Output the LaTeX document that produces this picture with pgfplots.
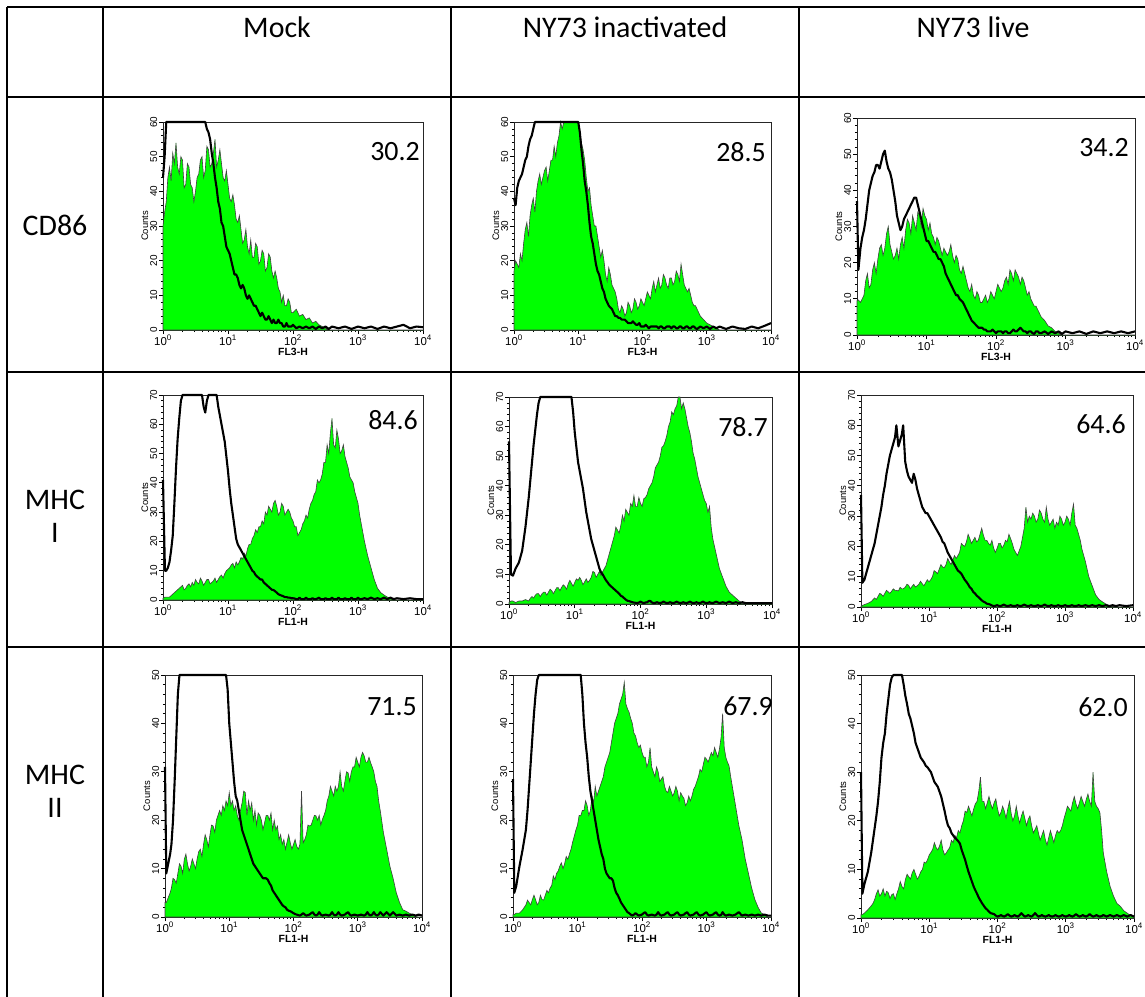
\documentclass[border=0pt]{standalone}
\usepackage{pgfplots}
\pgfplotsset{compat=1.18}
\usepackage{pgfplotstable}
\usepackage{fontspec}
\setmainfont{Carlito}
\setsansfont{Liberation Sans}
\definecolor{facsgreen}{RGB}{0,255,0}

\pgfplotstableread{
x g b
0.00 30 44
0.025 34 50
0.05 37 60
0.075 44 60
0.10 47 60
0.125 43 60
0.15 51 60
0.175 48 60
0.20 54 60
0.225 47 60
0.25 45 60
0.275 50 60
0.30 49 60
0.325 41 60
0.35 42 60
0.375 48 60
0.40 47 60
0.425 42 60
0.45 41 60
0.475 37 60
0.50 40 60
0.525 44 60
0.55 45 60
0.575 49 60
0.60 50 60
0.625 44 60
0.65 46 60
0.675 53 58
0.70 52 57
0.725 47 55
0.75 48 51
0.775 51 48
0.80 55 44
0.825 47 41
0.85 49 37
0.875 52 35
0.90 48 31
0.925 44 30
0.95 43 27
0.975 46 24
1.00 42 23
1.025 38 22
1.05 37 20
1.075 39 18
1.10 36 16
1.125 32 16
1.15 31 15
1.175 33 13
1.20 29 12
1.225 25 13
1.25 26 12
1.275 29 10
1.30 24 9
1.325 22 10
1.35 26 9
1.375 21 8
1.40 21 7
1.425 25 7
1.45 24 6
1.475 19 5
1.50 20 4
1.525 23 5
1.55 22 4
1.575 17 3
1.60 18 3
1.625 22 4
1.65 21 3
1.675 17 2
1.70 15 3
1.725 17 2
1.75 15 2
1.775 12 3
1.80 11 2
1.825 8 2
1.85 10 1
1.875 7 1
1.90 7 2
1.925 9 1
1.95 8 1
1.975 5 1
2.00 5 1.5
2.05 6 0.5
2.10 4 1
2.15 4.5 0.5
2.20 3 1
2.25 3.5 0.5
2.30 2 1
2.35 2.5 0.3
2.40 1.5 1
2.45 1 0.5
2.50 0.5 1
2.55 0 0.3
2.60 0 1
2.70 0 0.5
2.80 0 1
2.90 0 0.3
3.00 0 1
3.10 0 0.5
3.20 0 1
3.30 0 0.3
3.40 0 1
3.50 0 0.5
3.60 0 1
3.70 0 1.5
3.80 0 0.5
3.90 0 1
4.00 0 0.8
}\tabA

\pgfplotstableread{
x g b
0.00 17 38
0.025 20 36
0.05 19 41
0.075 18 43
0.10 22 44
0.125 20 45
0.15 25 47
0.175 29 49
0.20 31 50
0.225 27 53
0.25 33 55
0.275 36 56
0.30 38 58
0.325 34 60
0.35 40 60
0.375 43 60
0.40 45 60
0.425 42 60
0.45 44 60
0.475 46 60
0.50 47 60
0.525 43 60
0.55 46 60
0.575 49 60
0.60 49 60
0.625 53 60
0.65 50 60
0.675 54 60
0.70 56 60
0.725 60 60
0.75 58 60
0.775 60 60
0.80 60 60
0.85 60 60
0.90 60 60
0.95 60 60
1.00 60 60
1.025 57 57
1.05 54 52
1.075 52 48
1.10 49 43
1.125 44 40
1.15 40 36
1.175 41 31
1.20 36 27
1.225 33 25
1.25 30 22
1.275 30 19
1.30 27 17
1.325 24 16
1.35 21 14
1.375 23 12
1.40 20 11
1.425 16 9
1.45 14 8
1.475 18 7
1.50 16 6.5
1.525 13 6
1.55 12 5
1.575 11 4
1.60 9 4
1.625 6 3.5
1.65 5 3.5
1.675 7 3
1.70 6 3
1.725 4 3
1.75 5 2.5
1.775 8 2
1.80 7 2
1.825 5 2
1.85 6 2.5
1.875 9 2
1.90 8 1.5
1.925 6 1.5
1.95 7 2
1.975 9 1
2.00 8 1
2.025 7 1
2.05 9 1.5
2.075 11 1
2.10 10 0.5
2.125 9 1
2.15 12 1
2.175 14 1
2.20 11 1
2.225 13 1
2.25 15 0.5
2.275 12 1
2.30 13 1
2.325 16 0.5
2.35 15 0.5
2.375 13 1
2.40 12 1
2.425 15 1
2.45 15 0.5
2.475 13 1
2.50 14 1
2.525 17 0.5
2.55 16 0.5
2.575 14 1
2.60 19 1
2.625 16 0.5
2.65 13 0.5
2.675 12 1
2.70 11 1
2.725 12 0.5
2.75 10 0.5
2.775 8 1
2.80 7 1
2.825 7 0.5
2.85 6 0.3
2.90 4 1
2.95 3 0.5
3.00 2 1
3.05 1.5 0.3
3.10 1 1
3.15 0.5 0.5
3.20 0 1
3.30 0 0.3
3.40 0 1
3.50 0 0.5
3.60 0 0.3
3.70 0 1
3.80 0 0.5
3.90 0 1.2
4.00 0 2
}\tabB

\pgfplotstableread{
x g b
0.00 9.5 37
0.02 9.7 18
0.05 9 24
0.075 10 27
0.10 11 29
0.125 15 32
0.15 17 36
0.175 13 40
0.20 14 42
0.225 18 44
0.25 20 45
0.275 17 47
0.30 21 47
0.325 24 46
0.35 25 48
0.375 22 50
0.40 24 51
0.425 28 48
0.45 30 46
0.475 25 45
0.50 23 43
0.525 21 40
0.55 22 37
0.575 24 33
0.60 21 31
0.625 25 29
0.65 27 30
0.675 24 32
0.70 29 33
0.725 32 34
0.75 31 35
0.775 28 36
0.80 33 37
0.825 31 38
0.85 29 38
0.875 34 36
0.90 33 34
0.925 30 32
0.95 35 30
0.975 33 28
1.00 32 26
1.025 29 26
1.05 31 25
1.075 28 24
1.10 27 23
1.125 25 23
1.15 27 22
1.175 26 21
1.20 24 21
1.225 22 20
1.25 24 19
1.275 23 17
1.30 22 16
1.325 23 15
1.35 25 14
1.375 22 13
1.40 20 12
1.425 22 11
1.45 21 11
1.475 18 10
1.50 17 9.5
1.525 19 9
1.55 17 8
1.575 15 7
1.60 13 6
1.625 12 5
1.65 14 4
1.675 11 3.5
1.70 10 3
1.725 12 2.5
1.75 11 2
1.775 9 2
1.80 9 2
1.825 10 1.5
1.85 11 1.5
1.875 9 1
1.90 10 1
1.925 12 1
1.95 11 1.5
1.975 10 1
2.00 12 0.5
2.025 14 1
2.05 13 1
2.075 12 1
2.10 13 0.5
2.125 15 1
2.15 16 1
2.175 14 0.5
2.20 18 0.5
2.225 17 1
2.25 15 1.5
2.275 18 1
2.30 17 1
2.325 16 1.5
2.35 14 2
2.375 16 1.5
2.40 15 1
2.425 13 1
2.45 11 0.5
2.475 12 1
2.50 10 1
2.525 9 0.5
2.55 8 0.3
2.575 8 1
2.60 7 1
2.625 6 0.5
2.65 5 0.5
2.70 4 1
2.75 2.5 0.3
2.80 2 1
2.85 1 0.5
2.90 0.5 1
2.95 0 0.3
3.00 0 1
3.10 0 0.5
3.20 0 1
3.30 0 0.3
3.40 0 1
3.50 0 0.5
3.60 0 1
3.70 0 0.5
3.80 0 1
3.90 0 0.5
4.00 0 1
}\tabC

\pgfplotstableread{
x g b
0.00 0.6 41
0.03 1 10
0.05 1 10
0.075 1 11
0.10 1 13
0.125 1.5 17
0.15 2 22
0.175 2.5 33
0.20 3 45
0.225 3.5 55
0.25 4 62
0.275 4.5 68
0.30 5 70
0.325 3.5 70
0.35 4 70
0.375 5 70
0.40 5.5 70
0.425 4.5 70
0.45 6 70
0.475 5 70
0.50 7 70
0.525 6 70
0.55 5.5 70
0.575 7.5 70
0.60 6.5 70
0.625 5 66
0.65 6 64
0.675 7 68
0.70 7 70
0.725 5.5 70
0.75 6 70
0.775 6.5 70
0.80 7.5 70
0.825 6 70
0.85 7 66
0.875 8 63
0.90 8.5 60
0.925 7.5 57
0.95 9 54
0.975 10 49
1.00 10.5 44
1.025 11 38
1.05 12 33
1.075 12.5 29
1.10 11 25
1.125 13 21
1.15 12 19
1.175 13 18
1.20 14.5 17
1.225 14 16
1.25 16 15
1.275 15 14
1.30 17.5 13
1.325 19 12
1.35 19 11
1.375 21 10
1.40 22 9.5
1.425 24 8.5
1.45 23 8
1.475 25 7.5
1.50 25 7
1.525 27 7
1.55 26 6
1.575 30 5.5
1.60 29 5
1.625 32 4.5
1.65 31 4
1.675 30 3.5
1.70 33 3.4
1.725 34 3
1.75 32 2.5
1.775 29 2
1.80 30 1.7
1.825 33 1.5
1.85 32 1.3
1.875 29 1
1.90 30 1
1.925 31 0.8
1.95 30 0.8
1.975 28 0.6
2.00 27 0.6
2.025 25 0.5
2.05 25 0.3
2.075 22 0.3
2.10 23 0.8
2.125 24 0.3
2.15 26 0.3
2.175 27 0.3
2.20 29 0.8
2.225 28 0.3
2.25 31 0.3
2.275 33 0.3
2.30 34 0.6
2.325 36 0.3
2.35 37 0.3
2.375 41 0.5
2.40 40 0.8
2.425 41 0.3
2.45 43 0.3
2.475 47 0.3
2.50 47 0.6
2.525 53 0.3
2.55 50 0.3
2.575 57 0.3
2.60 62 0.8
2.625 53 0.3
2.65 52 0.3
2.675 58 0.3
2.70 55 0.8
2.725 50 0.3
2.75 51 0.3
2.775 53 0.3
2.80 49 0.6
2.825 47 0.3
2.85 45 0.3
2.875 42 0.3
2.90 41 0.8
2.925 40 0.3
2.95 37 0.3
2.975 35 0.3
3.00 33 0.8
3.025 29 0.3
3.05 26 0.3
3.10 20 0.6
3.15 15 0.3
3.20 11 0.8
3.25 7 0.3
3.30 4 0.6
3.35 2.5 0.3
3.40 1.7 0.8
3.45 1 0.3
3.50 0.6 0.8
3.55 0 0.3
3.60 0 0.6
3.70 0 0.3
3.80 0 0.6
3.90 0 0.3
4.00 0 0.3
}\tabD

\pgfplotstableread{
x g b
0.00 0.5 55
0.03 1 10
0.06 1 9.6
0.10 0.5 12
0.15 1 14
0.20 1 18
0.25 1.5 26
0.30 1 36
0.325 2 42
0.35 2.5 48
0.375 2 54
0.40 3 59
0.425 3.5 64
0.45 3.5 68
0.475 2.5 70
0.50 3.4 70
0.525 4 70
0.55 4 70
0.575 3 70
0.60 4 70
0.625 5 70
0.65 4.5 70
0.675 3.5 70
0.70 4.5 70
0.725 5.5 70
0.75 5.5 70
0.775 4.5 70
0.80 5.6 70
0.825 6.5 70
0.85 6 70
0.875 5 70
0.90 6.8 70
0.925 8 70
0.95 7 70
0.975 6 65
1.00 7.3 58
1.025 8.5 53
1.05 8 48
1.075 9 45
1.10 8 42
1.125 6.5 39
1.15 7.5 35
1.175 8.5 31
1.20 7.3 28
1.225 8 25
1.25 9 22
1.275 11 20
1.30 10.7 18
1.325 9 16
1.35 10 14
1.375 11 12
1.40 9.6 10.7
1.425 11 10
1.45 12 9
1.475 13 8
1.50 15 7.3
1.525 17 6.5
1.55 19 6
1.575 21 5.5
1.60 23 5
1.625 26 4.5
1.65 25 4
1.675 24 3.5
1.70 26.5 2.8
1.725 30 2.5
1.75 28 2
1.775 32 1.5
1.80 31 1.1
1.825 30 1
1.85 34 0.8
1.875 33 0.6
1.90 36.7 0.5
1.925 33 0.4
1.95 33 0.3
1.975 36 0.5
2.00 34 0.8
2.025 33 0.5
2.05 35.6 0.3
2.075 36 0.5
2.10 37 0.6
2.125 39 1
2.15 40 1
2.175 41 0.5
2.20 43 0.3
2.225 46 0.4
2.25 47 0.6
2.275 48 0.4
2.30 50 0.3
2.325 53 0.5
2.35 53.5 0.8
2.375 55 0.5
2.40 57 0.3
2.425 60 0.4
2.45 61.5 0.6
2.475 65 0.4
2.50 64 0.3
2.525 66 0.5
2.55 67 0.8
2.575 70 0.5
2.60 70 0.3
2.625 66 0.4
2.65 68 0.6
2.675 66 0.4
2.70 63 0.3
2.725 60 0.5
2.75 58 0.8
2.775 55 0.5
2.80 51 0.3
2.825 49 0.4
2.85 46 0.6
2.875 43 0.4
2.90 41 0.3
2.925 39 0.5
2.95 37 0.8
2.975 35 0.5
3.00 34 0.3
3.025 31 0.4
3.05 33 0.6
3.075 26 0.4
3.10 22 0.3
3.15 17 0.8
3.20 12 0.3
3.25 9 0.6
3.30 6 0.3
3.35 4 0.8
3.40 3 0.3
3.45 2 0.6
3.50 1 0.3
3.55 0.3 0.6
3.60 0 0.3
3.70 0 0.3
3.80 0 0.3
3.90 0 0.3
4.00 0 0.3
}\tabE

\pgfplotstableread{
x g b
0.00 0.3 37
0.02 0.5 8
0.05 0.8 9
0.10 1.2 13
0.15 1.8 17
0.20 3 21
0.225 2.5 24
0.25 3.5 27
0.275 4.5 30
0.30 4.2 33
0.325 3.5 37
0.35 4.5 40
0.375 5.5 44
0.40 5 47
0.425 4.5 50
0.45 5.2 52
0.475 6 54
0.50 5.5 56
0.52 5.5 60
0.55 5.3 53
0.575 6.5 55
0.60 6 57
0.62 6 60
0.65 6.5 48
0.675 7.5 45
0.70 7.2 43
0.725 6 42
0.75 6.8 41
0.775 7.5 44
0.80 6.6 42
0.825 7 39
0.85 7.5 37
0.875 8.5 35
0.90 7.7 33
0.925 7 32
0.95 8 31
0.975 9 31
1.00 8.3 30
1.025 9 29
1.05 10 28
1.075 12 27
1.10 11.6 26
1.125 11 25
1.15 12.5 24
1.175 14 23
1.20 13.2 21.5
1.225 13 21
1.25 14 19.5
1.275 16 18
1.30 14.9 17
1.325 14 16
1.35 15.5 15
1.375 17 14
1.40 16 13
1.425 17 12
1.45 18 11.6
1.475 21 11
1.50 20.4 10
1.525 20 9
1.55 21.5 8.3
1.575 24 7.5
1.60 22.6 6.5
1.625 21 6
1.65 22 5
1.675 23 4.5
1.70 21.5 3.8
1.725 22 3.3
1.75 24 2.8
1.775 26 2.2
1.80 23.7 1.8
1.825 22 1.5
1.85 22 1.1
1.875 21 1
1.90 20.4 0.8
1.925 22 0.5
1.95 19.5 0.3
1.975 18 0.4
2.00 19.3 0.6
2.025 21 0.4
2.05 21 0.3
2.075 19.5 0.5
2.10 20.4 0.8
2.125 22 0.5
2.15 21.5 0.3
2.175 24 0.4
2.20 22.6 0.6
2.225 21 0.4
2.25 19 0.3
2.275 18 0.4
2.30 17 0.6
2.325 18.5 0.4
2.35 20 0.3
2.375 23 0.5
2.40 26 0.8
2.425 33 0.5
2.45 28 0.3
2.475 30 0.4
2.50 29 0.6
2.525 31 0.4
2.55 30 0.3
2.575 28 0.4
2.60 29 0.6
2.625 32 0.4
2.65 31 0.3
2.675 29 0.5
2.70 28 0.8
2.725 33 0.5
2.75 29 0.3
2.775 27 0.4
2.80 28 0.6
2.825 29 0.4
2.85 26 0.3
2.875 28 0.4
2.90 27 0.6
2.925 30 0.4
2.95 29 0.3
2.975 27 0.4
3.00 28 0.6
3.025 30 0.4
3.05 29 0.3
3.075 27 0.4
3.10 31 0.6
3.125 34 0.4
3.15 27 0.3
3.175 26 0.4
3.20 24 0.6
3.225 22 0.4
3.25 19 0.3
3.30 15 0.6
3.35 10 0.3
3.40 7 0.6
3.45 4 0.3
3.50 2.5 0.6
3.55 1.7 0.3
3.60 1 0.6
3.65 0.5 0.3
3.70 0.3 0.6
3.75 0 0.3
3.80 0 0.6
3.90 0 0.3
4.00 0 0.6
}\tabF

\pgfplotstableread{
x g b
0.00 3 31
0.02 3 9
0.05 4 11
0.08 5 13
0.10 6 15
0.125 8 20
0.15 7.7 28
0.175 7 37
0.20 9 46
0.225 11 50
0.25 10.5 50
0.275 9 50
0.30 11.9 50
0.325 13 50
0.35 11 50
0.375 9.5 50
0.40 10.5 50
0.425 12 50
0.45 11 50
0.475 10 50
0.50 12 50
0.525 13.5 50
0.55 14 50
0.575 12.5 50
0.60 15 50
0.625 17 50
0.65 16 50
0.675 14.5 50
0.70 17 50
0.725 19 50
0.75 18.8 50
0.775 17.5 50
0.80 20 50
0.825 21 50
0.85 22 50
0.875 21 50
0.90 23 50
0.925 22 50
0.95 24 50
0.975 23 47
1.00 25.7 40
1.025 23 36
1.05 24 32
1.075 22 28
1.10 23 25
1.125 21 24
1.15 20 22
1.175 22 20
1.20 23.6 18
1.225 26 17
1.25 25.7 16
1.275 21 15
1.30 24 14
1.325 22 13
1.35 23.6 12
1.375 20 11
1.40 22 10.5
1.425 19 10
1.45 21.5 9.5
1.475 21 9
1.50 20 8.5
1.525 18 8
1.55 19.5 8
1.575 21 8
1.60 21 7.7
1.625 20 7
1.65 21.5 6.5
1.675 18 5.5
1.70 20 5
1.725 18 4.5
1.75 18.8 4
1.775 16 3.5
1.80 17 3
1.825 15 2.5
1.85 16 2.2
1.875 14 2
1.90 15.5 1.5
1.925 17 1.3
1.95 15.3 1.2
1.975 14 1
2.00 15 0.8
2.025 16 0.6
2.05 14.6 0.5
2.075 14 0.4
2.10 15 0.3
2.125 26 0.5
2.15 15.3 0.8
2.175 16 0.5
2.20 17 0.3
2.225 19 0.4
2.25 18.8 0.5
2.275 19 0.8
2.30 20 1
2.325 21 0.5
2.35 20.9 0.3
2.375 20 0.5
2.40 21 1
2.425 19 0.5
2.45 20.2 0.3
2.475 21 0.4
2.50 22 0.5
2.525 24 0.4
2.55 25 0.3
2.575 27 0.5
2.60 26 1
2.625 25 0.5
2.65 27 0.3
2.675 26 0.5
2.70 27 1
2.725 30 0.5
2.75 27 0.3
2.775 26 0.4
2.80 28 0.5
2.825 30 0.8
2.85 29.8 1
2.875 28 0.5
2.90 30 0.3
2.925 31 0.4
2.95 31 0.5
2.975 33 0.4
3.00 32 0.3
3.025 31 0.4
3.05 33 0.5
3.075 34 0.4
3.10 33.3 0.3
3.125 32 0.5
3.15 32 1
3.175 33 0.5
3.20 31.9 0.3
3.225 31 0.5
3.25 30 1
3.275 28 0.5
3.30 27 0.3
3.325 24 0.5
3.35 22 1
3.40 17.4 0.3
3.45 14 1
3.50 10.5 0.3
3.55 8 1
3.60 5 0.3
3.65 3 0.5
3.70 1.5 0.3
3.75 1.2 0.5
3.80 0.8 0.3
3.85 0.5 0.5
3.90 0.1 0.3
3.95 0 0.5
4.00 0 0.3
}\tabG

\pgfplotstableread{
x g b
0.00 0.5 28.5
0.02 0.5 5
0.05 0.8 6.4
0.10 0.8 10.5
0.15 1.5 14
0.20 2.5 18
0.225 3.5 22
0.25 3 27
0.275 2.5 32
0.30 3.6 37
0.325 4.5 42
0.35 3.6 46
0.375 2.5 49
0.40 3 50
0.425 4.5 50
0.45 3.6 50
0.475 3.5 50
0.50 4.5 50
0.525 5.5 50
0.55 5 50
0.575 6 50
0.60 6.5 50
0.625 8.5 50
0.65 7.7 50
0.675 9 50
0.70 9.5 50
0.725 10.5 50
0.75 11.2 50
0.775 10 50
0.80 11 50
0.825 12.5 50
0.85 11.9 50
0.875 13 50
0.90 14 50
0.925 15.5 50
0.95 16.7 50
0.975 18 50
1.00 19 50
1.025 21 50
1.05 20.9 50
1.075 22 46
1.10 22 40
1.125 24 36
1.15 23 33
1.175 21 29
1.20 22 26
1.225 25 24
1.25 23.6 22
1.275 27 20
1.30 25 18
1.325 26 16
1.35 27 14.5
1.375 28 13
1.40 29 12
1.425 31 10
1.45 32 9
1.475 33 8.5
1.50 34 8
1.525 36 8
1.55 38 7.5
1.575 40 6
1.60 41 5
1.625 42 4.5
1.65 44 3.8
1.675 45 3
1.70 46 2.5
1.725 48.5 2
1.75 44 1.5
1.775 43 1
1.80 42.3 0.8
1.825 41 0.5
1.85 40 0.3
1.875 38 0.5
1.90 37.4 0.8
1.925 36 0.5
1.95 35 0.3
1.975 35.5 0.4
2.00 34 0.5
2.025 33 0.8
2.05 33 1
2.075 31 0.5
2.10 32 0.3
2.125 35 0.4
2.15 31 0.5
2.175 30 0.4
2.20 29 0.3
2.225 31 0.5
2.25 30 1
2.275 28 0.5
2.30 28.5 0.3
2.325 29 0.4
2.35 27 0.5
2.375 26 0.8
2.40 25.7 1
2.425 27 0.5
2.45 26 0.3
2.475 25 0.4
2.50 25.7 0.5
2.525 27 0.8
2.55 26 1
2.575 24 0.5
2.60 25.7 0.3
2.625 25 0.4
2.65 24.5 0.5
2.675 23 0.8
2.70 23.6 1
2.725 25 0.5
2.75 24 0.3
2.775 25 0.4
2.80 26.4 0.5
2.825 27 0.8
2.85 28 1
2.875 29 0.5
2.90 30.5 0.3
2.925 30 0.4
2.95 31.5 0.5
2.975 33 0.8
3.00 32.6 1
3.025 32 0.5
3.05 33 0.3
3.075 34 0.4
3.10 33.3 0.5
3.125 35 0.8
3.15 34 1
3.175 33 0.5
3.20 34.7 0.3
3.225 37 0.4
3.25 42 1
3.275 35 0.5
3.30 33 0.3
3.325 32 0.4
3.35 31.2 0.5
3.375 29 0.4
3.40 27 0.3
3.45 23 0.5
3.50 19 1
3.55 16 0.3
3.60 12 0.5
3.65 9 0.3
3.70 6 0.5
3.75 3.6 0.3
3.80 2 0.5
3.85 0.8 0.3
3.90 0.5 0.5
3.95 0 0.3
4.00 0 0.3
}\tabH

\pgfplotstableread{
x g b
0.00 0.7 30
0.02 0.7 5
0.05 1 7
0.10 1.7 9.5
0.15 2.5 13.5
0.175 3 16
0.20 3.8 18.5
0.225 5 21
0.25 5.8 24
0.275 4.5 28
0.30 5 33
0.325 6 36
0.35 4.5 38
0.375 5.5 42
0.40 5.2 45
0.425 4 48
0.45 4.8 49.5
0.475 5 50
0.50 3.8 50
0.525 5 50
0.55 6 50
0.575 7.5 50
0.60 6.5 50
0.625 6 48
0.65 7.9 45.7
0.675 9 44
0.70 8.5 42
0.725 8 41
0.75 9.3 39.5
0.775 10 38
0.80 9 36
0.825 8 35
0.85 8.6 34
0.875 9.5 33
0.90 10 32.5
0.925 11.5 32
0.95 11.3 31.3
0.975 12 31
1.00 13 30.5
1.025 13.5 30
1.05 14.1 29
1.075 15.5 28
1.10 14.5 27.5
1.125 14 27
1.15 14.8 26
1.175 16 25
1.20 14 23.5
1.225 13 22
1.25 13.4 20.3
1.275 14 19
1.30 14.5 18.5
1.325 16 17.5
1.35 15.5 17
1.375 17 16.5
1.40 16.5 16.2
1.425 18 15.8
1.45 17.5 15.3
1.475 19 14
1.50 20 13
1.525 22 12
1.55 21.7 10.7
1.575 23 9.5
1.60 22 8.5
1.625 21 7.5
1.65 22.4 6.5
1.675 23.5 5.7
1.70 24 5
1.725 26 4.2
1.75 29 3.6
1.775 24 3
1.80 24 2.5
1.825 22.5 2
1.85 23.7 1.7
1.875 25 1.3
1.90 23.5 1
1.925 22.5 0.9
1.95 23.7 0.8
1.975 24.5 0.5
2.00 22.5 0.3
2.025 21 0.4
2.05 21.7 0.6
2.075 23 0.4
2.10 22 0.3
2.125 20.5 0.5
2.15 22.4 0.8
2.175 24 0.5
2.20 21.5 0.3
2.225 20 0.4
2.25 21 0.6
2.275 23 0.4
2.30 21 0.3
2.325 19.5 0.6
2.35 21 1
2.375 22 0.6
2.40 20.5 0.3
2.425 19 0.4
2.45 20.3 0.6
2.475 21 0.4
2.50 19 0.3
2.525 17.5 0.6
2.55 18.2 1
2.575 19 0.6
2.60 17.5 0.3
2.625 16 0.4
2.65 17 0.6
2.675 18 0.4
2.70 16.2 0.3
2.725 15 0.4
2.75 16.5 0.6
2.775 18 0.4
2.80 16.8 0.3
2.825 15.5 0.4
2.85 17 0.6
2.875 18 0.4
2.90 17.5 0.3
2.925 18 0.4
2.95 19 0.6
2.975 20.5 0.4
3.00 21.7 0.3
3.025 23 0.4
3.05 22.5 0.6
3.075 22 0.4
3.10 23.7 0.3
3.125 25 0.5
3.15 23.5 0.8
3.175 22.5 0.5
3.20 23.7 0.3
3.225 25 0.4
3.25 24 0.6
3.275 23 0.4
3.30 24.4 0.3
3.325 25.5 0.5
3.35 24 0.8
3.375 23 0.5
3.40 30 0.3
3.425 24 0.4
3.45 23 0.6
3.475 22.5 0.4
3.50 21.7 0.3
3.525 18 0.4
3.55 13.4 0.6
3.60 9.5 0.3
3.65 6.5 0.6
3.70 4.5 0.3
3.75 3 0.6
3.80 2.4 0.3
3.85 1.5 0.6
3.90 1 0.3
3.95 0.5 0.6
4.00 0.3 0.3
}\tabI

\pgfplotsset{
  facs/.style={
    anchor=north west,
    scale only axis,
    xmin=0, xmax=4, ymin=0,
    clip=false,
    axis line style={line width=0.9bp, black!85},
    tick pos=left, tick align=outside,
    xtick={0,1,2,3,4},
    xticklabels={10\textsuperscript{0},10\textsuperscript{1},10\textsuperscript{2},10\textsuperscript{3},10\textsuperscript{4}},
    minor xtick={0.301,0.477,0.602,0.699,0.778,0.845,0.903,0.954,1.301,1.477,1.602,1.699,1.778,1.845,1.903,1.954,2.301,2.477,2.602,2.699,2.778,2.845,2.903,2.954,3.301,3.477,3.602,3.699,3.778,3.845,3.903,3.954},
    ytick distance=10,
    minor y tick num=4,
    major tick length=4bp, minor tick length=2.2bp,
    every tick/.style={line width=0.8bp, black},
    xticklabel style={font=\sffamily\fontsize{11.5}{11.5}\selectfont, inner sep=1bp},
    yticklabel style={font=\sffamily\fontsize{10}{10}\selectfont, rotate=90, anchor=south, inner sep=1.5bp},
    /pgf/number format/assume math mode=true,
    ylabel={Counts},
    ylabel style={font=\sffamily\fontsize{9.5}{9.5}\selectfont, yshift=-3bp},
    xlabel style={font=\sffamily\bfseries\fontsize{10.5}{10.5}\selectfont, inner sep=1.5bp},
  },
  gfill/.style={fill=facsgreen, draw=black!75, line width=0.6bp, mark=none, sharp plot},
  iso/.style={draw=black, line width=2.1bp, mark=none, line join=round, sharp plot},
}

\begin{document}
\begin{tikzpicture}
\useasboundingbox (0bp,0bp) rectangle (1145bp,-997bp);
\fill[white] (0bp,0bp) rectangle (1145bp,-997bp);

% table grid
\begin{scope}[line width=2.4bp, black]
\draw (7bp,-7bp) -- (1145bp,-7bp);
\draw (7bp,-97bp) -- (1145bp,-97bp);
\draw (7bp,-372bp) -- (1145bp,-372bp);
\draw (7bp,-647bp) -- (1145bp,-647bp);
\draw (7bp,-7bp) -- (7bp,-997bp);
\draw (103bp,-7bp) -- (103bp,-997bp);
\draw (451bp,-7bp) -- (451bp,-997bp);
\draw (799bp,-7bp) -- (799bp,-997bp);
\end{scope}

\begin{scope}[font=\fontsize{30}{33}\selectfont]
\node at (277bp,-27bp) {Mock};
\node at (625bp,-27bp) {NY73 inactivated};
\node at (973bp,-27bp) {NY73 live};
\node[align=center] at (55bp,-225bp) {CD86};
\node[align=center] at (55bp,-516bp) {MHC\\I};
\node[align=center] at (55bp,-791bp) {MHC\\II};
\end{scope}

% row 1: CD86
\begin{axis}[facs, at={(163bp,-122bp)}, width=260bp, height=208bp, ymax=60, xlabel={FL3-H}]
\addplot[gfill] table[x=x,y=g]{\tabA} \closedcycle;
\addplot[iso] table[x=x,y=b]{\tabA};
\end{axis}
\begin{axis}[facs, at={(514bp,-122bp)}, width=257bp, height=208bp, ymax=60, xlabel={FL3-H}]
\addplot[gfill] table[x=x,y=g]{\tabB} \closedcycle;
\addplot[iso] table[x=x,y=b]{\tabB};
\end{axis}
\begin{axis}[facs, at={(857bp,-118bp)}, width=278bp, height=217bp, ymax=60, xlabel={FL3-H}]
\addplot[gfill] table[x=x,y=g]{\tabC} \closedcycle;
\addplot[iso] table[x=x,y=b]{\tabC};
\end{axis}

% row 2: MHC I
\begin{axis}[facs, at={(163bp,-395bp)}, width=260bp, height=205bp, ymax=70, xlabel={FL1-H}]
\addplot[gfill] table[x=x,y=g]{\tabD} \closedcycle;
\addplot[iso] table[x=x,y=b]{\tabD};
\end{axis}
\begin{axis}[facs, at={(509bp,-397bp)}, width=263bp, height=207bp, ymax=70, xlabel={FL1-H}]
\addplot[gfill] table[x=x,y=g]{\tabE} \closedcycle;
\addplot[iso] table[x=x,y=b]{\tabE};
\end{axis}
\begin{axis}[facs, at={(861bp,-395bp)}, width=272bp, height=212bp, ymax=70, xlabel={FL1-H}]
\addplot[gfill] table[x=x,y=g]{\tabF} \closedcycle;
\addplot[iso] table[x=x,y=b]{\tabF};
\end{axis}

% row 3: MHC II
\begin{axis}[facs, at={(165bp,-675bp)}, width=257bp, height=242bp, ymax=50, xlabel={FL1-H}]
\addplot[gfill] table[x=x,y=g]{\tabG} \closedcycle;
\addplot[iso] table[x=x,y=b]{\tabG};
\end{axis}
\begin{axis}[facs, at={(513bp,-675bp)}, width=258bp, height=242bp, ymax=50, xlabel={FL1-H}]
\addplot[gfill] table[x=x,y=g]{\tabH} \closedcycle;
\addplot[iso] table[x=x,y=b]{\tabH};
\end{axis}
\begin{axis}[facs, at={(861bp,-675bp)}, width=273bp, height=243bp, ymax=50, xlabel={FL1-H}]
\addplot[gfill] table[x=x,y=g]{\tabI} \closedcycle;
\addplot[iso] table[x=x,y=b]{\tabI};
\end{axis}

% percentages
\begin{scope}[font=\fontsize{28}{28}\selectfont]
\node at (395bp,-152bp) {30.2};
\node at (741bp,-152bp) {28.5};
\node at (1104bp,-148bp) {34.2};
\node at (393bp,-420bp) {84.6};
\node at (743bp,-427bp) {78.7};
\node at (1101bp,-424bp) {64.6};
\node at (392bp,-707bp) {71.5};
\node at (748bp,-706bp) {67.9};
\node at (1103bp,-707bp) {62.0};
\end{scope}
\end{tikzpicture}
\end{document}
